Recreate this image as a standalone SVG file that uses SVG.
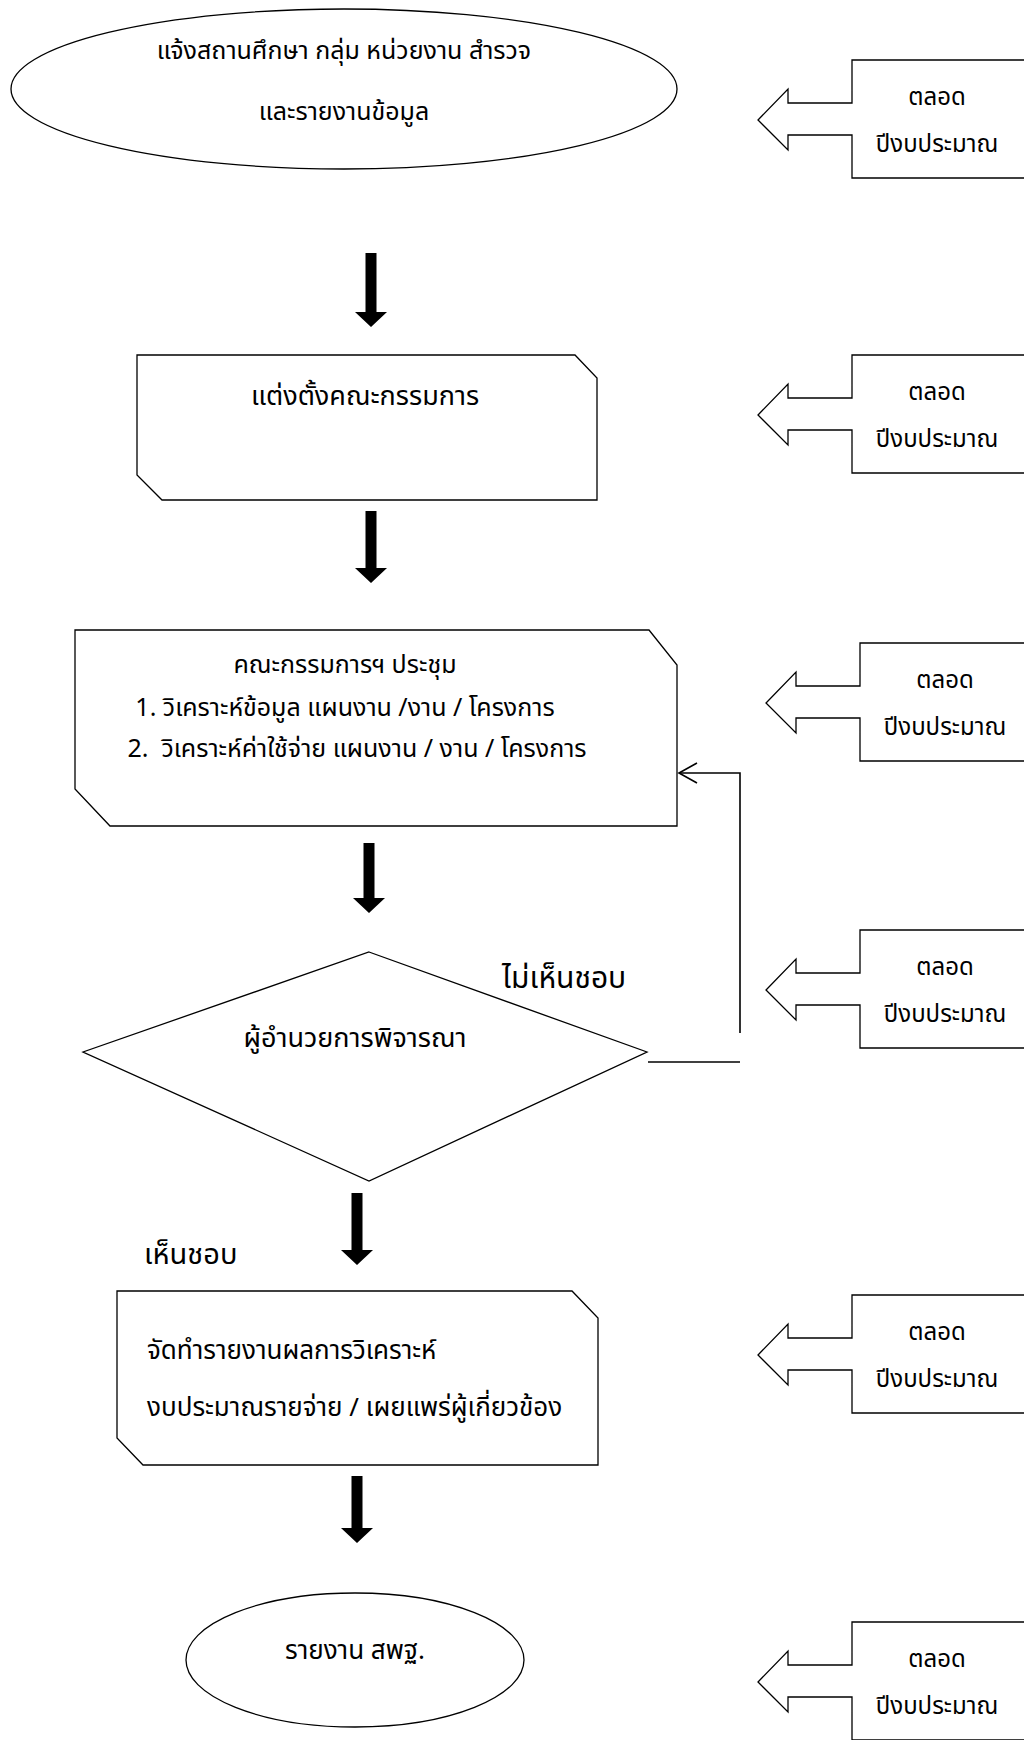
<svg xmlns="http://www.w3.org/2000/svg" width="1024" height="1740" viewBox="0 0 1024 1740">
<style>
.shape{fill:#fff;stroke:#000;stroke-width:1.3}
.line{fill:none;stroke:#000;stroke-width:1.6}
.big{fill:#000;stroke:none}
.t{font-family:"Noto Sans Thai","Noto Sans","DejaVu Sans",sans-serif;font-size:25px;fill:#000}
.c{text-anchor:middle}
.s{font-family:"Noto Sans Thai","Noto Sans","DejaVu Sans",sans-serif;font-size:24px;fill:#000;text-anchor:middle}
</style>
<rect width="1024" height="1740" fill="#fff"/>
<g id="start">
<ellipse class="shape" cx="344" cy="89" rx="333" ry="80"/>
<text class="t c" x="344" y="59">แจ้งสถานศึกษา กลุ่ม หน่วยงาน สำรวจ</text>
<text class="t c" x="344" y="120">และรายงานข้อมูล</text>
</g>
<g id="appoint">
<path class="shape" d="M137 355 H575 L597 378 V500 H162 L137 475 Z"/>
<text class="t c" x="365" y="405" style="font-size:27px">แต่งตั้งคณะกรรมการ</text>
</g>
<g id="meeting">
<path class="shape" d="M75 630 H649 L677 665 V826 H110 L75 789 Z"/>
<text class="t c" x="345" y="673">คณะกรรมการฯ ประชุม</text>
<text class="t c" x="345" y="716">1. วิเคราะห์ข้อมูล แผนงาน /งาน / โครงการ</text>
<text class="t c" x="357" y="757" xml:space="preserve">2.  วิเคราะห์ค่าใช้จ่าย แผนงาน / งาน / โครงการ</text>
</g>
<g id="decision">
<path class="shape" d="M369 952 L647 1052 L369 1181 L83 1052 Z"/>
<text class="t c" x="355" y="1047" style="font-size:27px">ผู้อำนวยการพิจารณา</text>
</g>
<g id="report">
<path class="shape" d="M117 1291 H572 L598 1318 V1465 H143 L117 1438 Z"/>
<text class="t" x="147" y="1359" style="font-size:26px">จัดทำรายงานผลการวิเคราะห์</text>
<text class="t" x="147" y="1416" style="font-size:26px">งบประมาณรายจ่าย / เผยแพร่ผู้เกี่ยวข้อง</text>
</g>
<g id="end">
<ellipse class="shape" cx="355" cy="1660" rx="169" ry="67"/>
<text class="t c" x="355" y="1659" style="font-size:26px">รายงาน สพฐ.</text>
</g>
<g id="callouts">
<g id="callout1">
<path class="shape" d="M1030 60 H852 V103 H788 V89 L758 120 L788 150 V135 H852 V178 H1030"/>
<text class="s" x="937" y="105">ตลอด</text>
<text class="s" x="937" y="152">ปีงบประมาณ</text>
</g>
<g id="callout2">
<path class="shape" d="M1030 355 H852 V398 H788 V384 L758 415 L788 445 V430 H852 V473 H1030"/>
<text class="s" x="937" y="400">ตลอด</text>
<text class="s" x="937" y="447">ปีงบประมาณ</text>
</g>
<g id="callout3">
<path class="shape" d="M1030 643 H860 V686 H796 V672 L766 703 L796 733 V718 H860 V761 H1030"/>
<text class="s" x="945" y="688">ตลอด</text>
<text class="s" x="945" y="735">ปีงบประมาณ</text>
</g>
<g id="callout4">
<path class="shape" d="M1030 930 H860 V973 H796 V959 L766 990 L796 1020 V1005 H860 V1048 H1030"/>
<text class="s" x="945" y="975">ตลอด</text>
<text class="s" x="945" y="1022">ปีงบประมาณ</text>
</g>
<g id="callout5">
<path class="shape" d="M1030 1295 H852 V1338 H788 V1324 L758 1355 L788 1385 V1370 H852 V1413 H1030"/>
<text class="s" x="937" y="1340">ตลอด</text>
<text class="s" x="937" y="1387">ปีงบประมาณ</text>
</g>
<g id="callout6">
<path class="shape" d="M1030 1622 H852 V1665 H788 V1651 L758 1682 L788 1712 V1697 H852 V1740 H1030"/>
<text class="s" x="937" y="1667">ตลอด</text>
<text class="s" x="937" y="1714">ปีงบประมาณ</text>
</g>
</g>
<g id="connectors">
<path class="big" d="M365.5 253 h11 v59 h10.5 l-16 15 l-16 -15 h10.5 z"/>
<path class="big" d="M365.5 511 h11 v57 h10.5 l-16 15 l-16 -15 h10.5 z"/>
<path class="big" d="M363.5 843 h11 v55 h10.5 l-16 15 l-16 -15 h10.5 z"/>
<path class="big" d="M351.5 1193 h11 v57 h10.5 l-16 15 l-16 -15 h10.5 z"/>
<path class="big" d="M351.5 1476 h11 v52 h10.5 l-16 15 l-16 -15 h10.5 z"/>
<path class="line" d="M648 1062 H740"/>
<path class="line" d="M740 1033 V773 H679"/>
<path class="line" d="M697 763 L679 773 L697 783"/>
<text class="t" x="502" y="988" style="font-size:30px">ไม่เห็นชอบ</text>
<text class="t" x="144" y="1264" style="font-size:29px">เห็นชอบ</text>
</g>
</svg>
